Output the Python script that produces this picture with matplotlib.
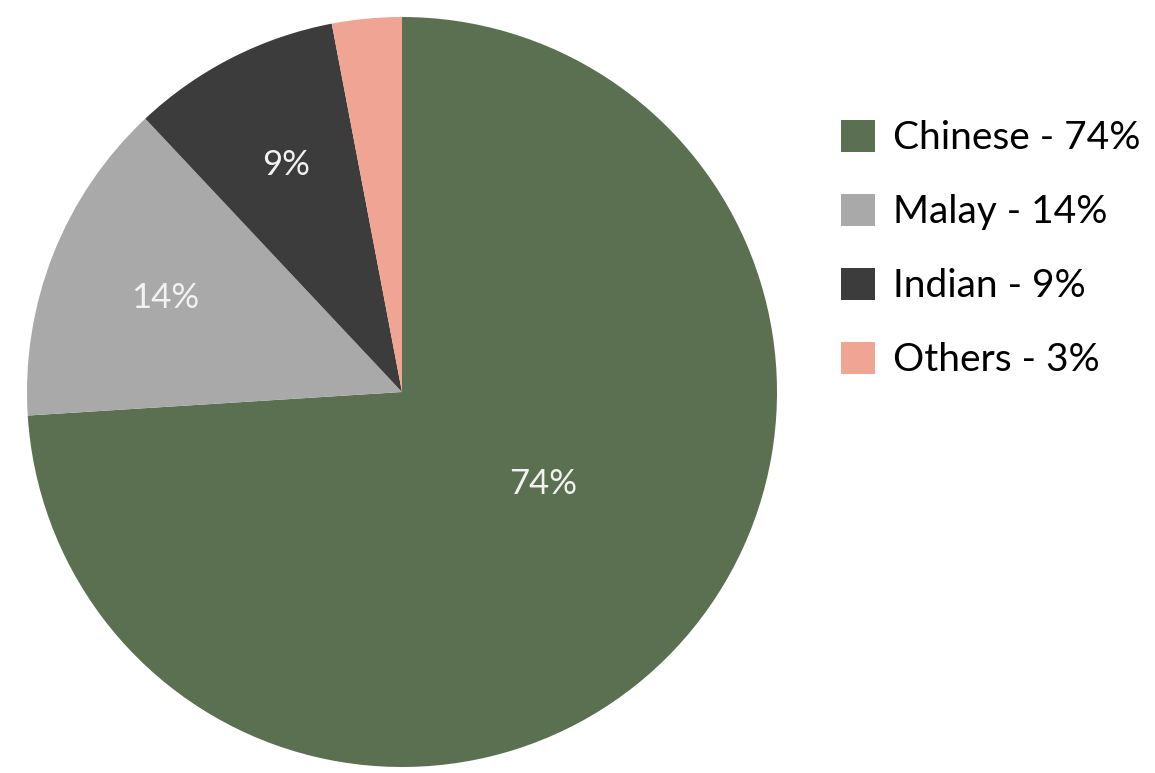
import numpy as np
import matplotlib
matplotlib.use("Agg")
import matplotlib.pyplot as plt

# dados do grafico
groups = ["Chinese", "Malay", "Indian", "Others"]
shares = [74, 14, 9, 3]
colors = ["#5b7050", "#a9a9a9", "#3c3c3c", "#f0a494"]

plt.rcParams["font.family"] = ["Lato", "DejaVu Sans"]

fig = plt.figure(figsize=(11.55, 7.73), dpi=100)
# eixo do pie: centro ~ (402, 392) px, raio ~ 375 px
ax = fig.add_axes([27 / 1155, 6 / 773, 750 / 1155, 750 / 773])

wedges, texts, autotexts = ax.pie(
    shares, colors=colors, startangle=90, counterclock=False,
    autopct="%d%%", pctdistance=0.68,
    textprops=dict(color="#f2f2f2", fontsize=25),
    wedgeprops=dict(linewidth=0),
)
ax.set_xlim(-1, 1)
ax.set_ylim(-1, 1)
ax.set_aspect("equal")

# rotulo da fatia grande fica mais perto do centro no original
ang = np.deg2rad(-33)
autotexts[0].set_position((0.45 * np.cos(ang), 0.45 * np.sin(ang)))
# a fatia pequena nao tem rotulo
autotexts[3].set_visible(False)

labels = [f"{g} - {s}%" for g, s in zip(groups, shares)]
fig.legend(wedges, labels, loc="upper left",
           bbox_to_anchor=(841 / 1155, (773 - 120) / 773),
           frameon=False, fontsize=28, handlelength=0.88, handleheight=0.88,
           handletextpad=0.45, labelspacing=0.97, borderpad=0,
           borderaxespad=0)

fig.savefig("out.png", dpi=100)
